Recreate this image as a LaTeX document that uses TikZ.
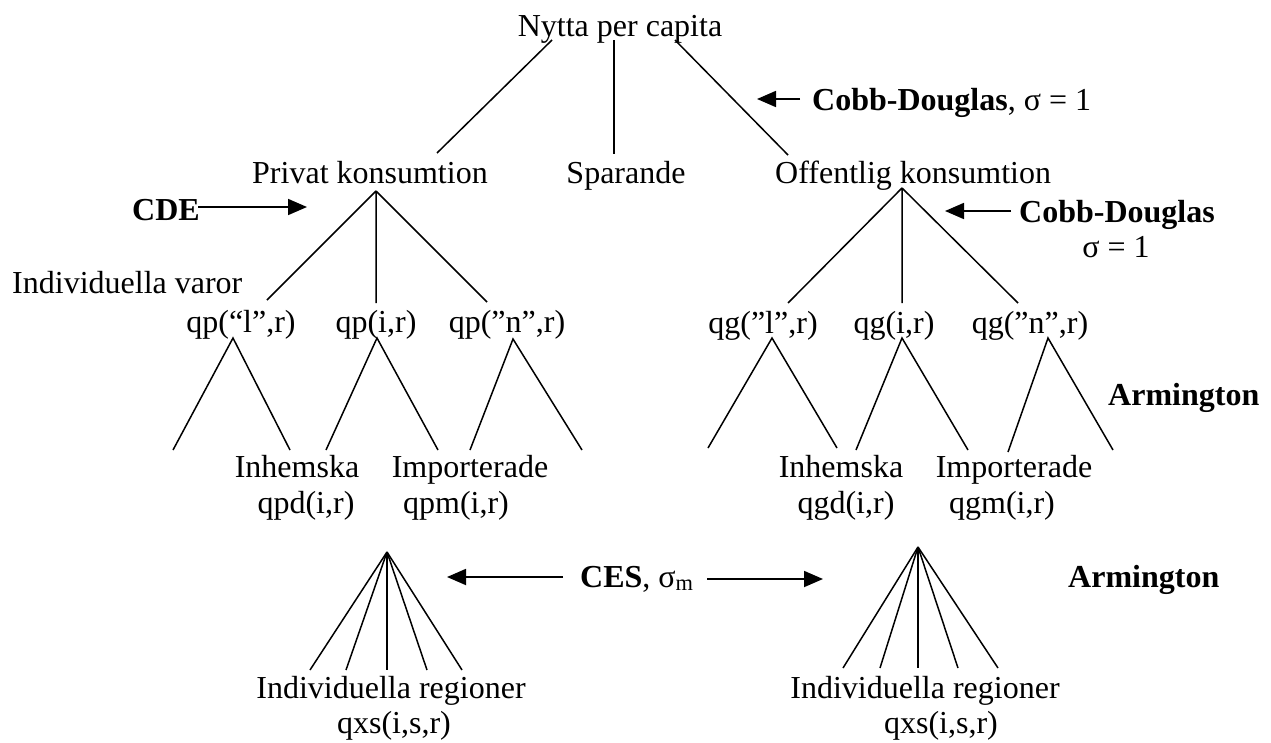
\documentclass[tikz,border=0pt]{standalone}
\usepackage{fontspec}
\setmainfont{Liberation Serif}
\usetikzlibrary{arrows.meta}
\begin{document}
\begin{tikzpicture}[x=1pt,y=-1pt,
  lbl/.style={font=\fontsize{32}{37}\selectfont, inner sep=0pt, anchor=base},
  lblw/.style={lbl, anchor=base west},
  bld/.style={font=\fontsize{32}{37}\selectfont\bfseries, inner sep=0pt, anchor=base west},
  edge/.style={line width=1.5pt},
  arr/.style={line width=1.8pt, -{Triangle[length=19pt,width=16pt]}}]
\useasboundingbox (0,0) rectangle (1271,742);

% ---------- text nodes ----------
\node[lbl]  (nytta) at (620,36) {Nytta per capita};
\node[lblw] (pk)    at (252,183) {Privat konsumtion};
\node[lbl]  (spar)  at (626,183) {Sparande};
\node[lblw] (ok)    at (775,183) {Offentlig konsumtion};
\node[bld]  (cd1)   at (812,110) {Cobb-Douglas\mdseries, σ = 1};
\node[bld]  (cd2)   at (1019,222) {Cobb-Douglas};
\node[lbl]  (sig2)  at (1116,257) {σ = 1};
\node[bld]  (cde)   at (132,220) {CDE};
\node[lblw] (iv)    at (12,293) {Individuella varor};
\node[lbl]  (qpl)   at (241,332) {qp(“l”,r)};
\node[lbl]  (qpi)   at (376,332) {qp(i,r)};
\node[lbl]  (qpn)   at (507,332) {qp(”n”,r)};
\node[lbl]  (qgl)   at (763,333) {qg(”l”,r)};
\node[lbl]  (qgi)   at (894,333) {qg(i,r)};
\node[lbl]  (qgn)   at (1030,333) {qg(”n”,r)};
\node[bld]  (arm1)  at (1108,405) {Armington};
\node[lbl]  (inh1)  at (297,477) {Inhemska};
\node[lbl]  (qpd)   at (306,513) {qpd(i,r)};
\node[lbl]  (imp1)  at (470,477) {Importerade};
\node[lbl]  (qpm)   at (456,513) {qpm(i,r)};
\node[lbl]  (inh2)  at (841,477) {Inhemska};
\node[lbl]  (qgd)   at (846,513) {qgd(i,r)};
\node[lbl]  (imp2)  at (1014,477) {Importerade};
\node[lbl]  (qgm)   at (1002,513) {qgm(i,r)};
\node[bld]  (ces)   at (580,587) {CES\mdseries, σ\textsubscript{m}};
\node[bld]  (arm2)  at (1068,587) {Armington};
\node[lbl]  (ir1)   at (391,698) {Individuella regioner};
\node[lbl]  (qxs1)  at (394,733) {qxs(i,s,r)};
\node[lbl]  (ir2)   at (925,698) {Individuella regioner};
\node[lbl]  (qxs2)  at (941,733) {qxs(i,s,r)};

% ---------- level 1 ----------
\coordinate (n1) at (552,40);  \coordinate (e1) at (437,153);
\coordinate (n2) at (614,40);  \coordinate (e2) at (614,154);
\coordinate (n3) at (675,40);  \coordinate (e3) at (788,155);
\draw[edge] (n1) -- (e1);
\draw[edge] (n2) -- (e2);
\draw[edge] (n3) -- (e3);

% ---------- level 2 ----------
\coordinate (pa) at (376,191);
\coordinate (pl) at (267,300); \coordinate (pm) at (376,303); \coordinate (pr) at (487,302);
\draw[edge] (pa) -- (pl) (pa) -- (pm) (pa) -- (pr);
\coordinate (oa) at (902,188);
\coordinate (ol) at (788,303); \coordinate (om) at (902,303); \coordinate (or) at (1018,303);
\draw[edge] (oa) -- (ol) (oa) -- (om) (oa) -- (or);

% ---------- level 3 ----------
\foreach \ax/\ay/\lx/\ly/\rx/\ry in {
  233/338/173/450/290/450,
  377/338/326/450/438/450,
  513/339/470/450/582/450,
  772/338/708/448/837/448,
  902/338/856/450/968/450,
  1048/338/1008/452/1113/450}{
  \draw[edge] (\lx,\ly) -- (\ax,\ay) -- (\rx,\ry);
}

% ---------- fans ----------
\coordinate (fa1) at (387,552);
\foreach \x in {310,346,387,427,462}{ \draw[edge] (fa1) -- (\x,670); }
\coordinate (fa2) at (918,547);
\foreach \x in {843,880,918,958,998}{ \draw[edge] (fa2) -- (\x,668); }

% ---------- arrows ----------
\coordinate (a1s) at (800,99);  \coordinate (a1t) at (757,99);
\draw[arr] (a1s) -- (a1t);
\coordinate (a2s) at (1011,211); \coordinate (a2t) at (945,211);
\draw[arr] (a2s) -- (a2t);
\coordinate (a3s) at (198,207); \coordinate (a3t) at (307,207);
\draw[arr] (a3s) -- (a3t);
\coordinate (a4s) at (563,577); \coordinate (a4t) at (447,577);
\draw[arr] (a4s) -- (a4t);
\coordinate (a5s) at (707,579); \coordinate (a5t) at (823,579);
\draw[arr] (a5s) -- (a5t);
\end{tikzpicture}
\end{document}
